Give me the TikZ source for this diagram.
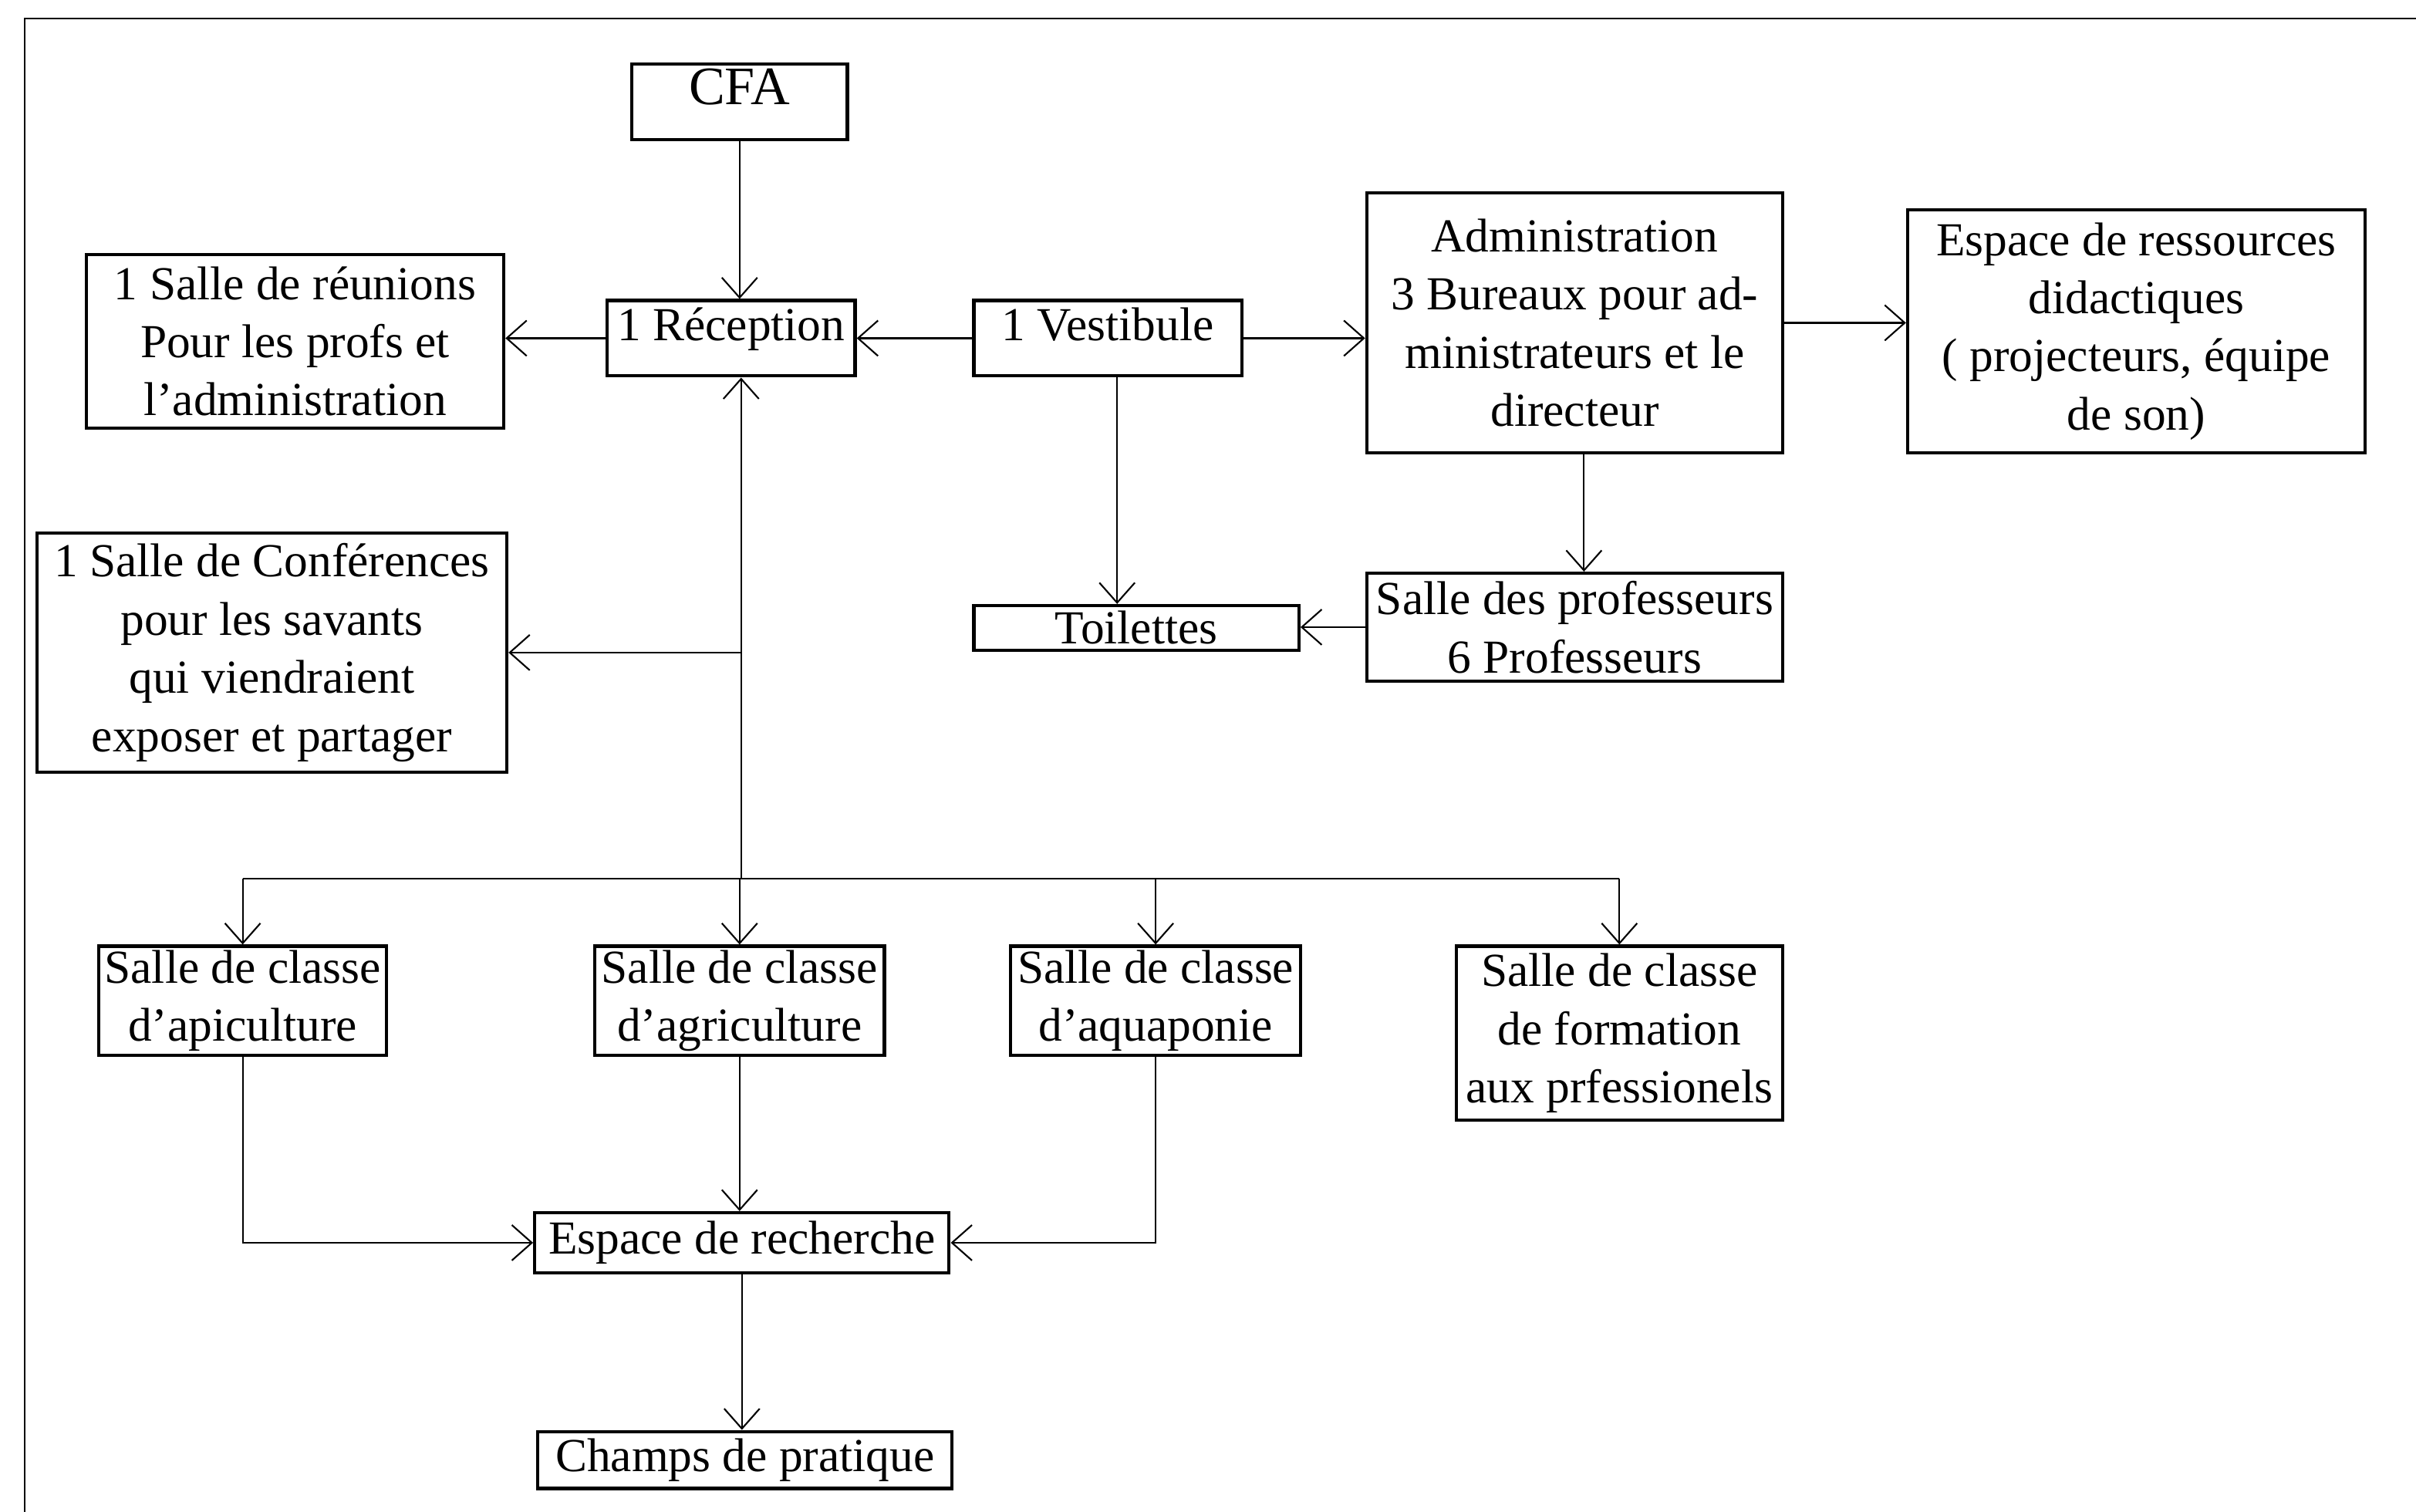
\documentclass[tikz,border=0pt]{standalone}
\usepackage{fontspec}
\setmainfont{Liberation Serif}
\usetikzlibrary{arrows.meta}

\begin{document}
\begin{tikzpicture}[x=0.02cm,y=-0.02cm,
  box/.style={draw,line width=1.2pt,align=center,inner sep=1pt,font=\fontsize{17.5}{21.5}\selectfont},
  high/.style={text height=0.44cm,text depth=0.37cm,inner ysep=2pt},
  arr/.style={-{Straight Barb[length=2.6mm,width=4.6mm]},line width=0.6pt}]
\useasboundingbox (0,0) rectangle (1568,981);
\draw[line width=0.8pt] (16,981)--(16,12)--(1568,12);

\node[box,high,minimum width=2.8cm,minimum height=0.98cm,font=\fontsize{20}{24}\selectfont] (cfa) at (480,66){CFA};
\node[box,high,minimum width=3.22cm,minimum height=0.98cm] (recep) at (474.5,219.5){1 Réception};
\node[box,high,minimum width=3.48cm,minimum height=0.98cm] (vest) at (719,219.5){1 Vestibule};
\node[box,minimum width=5.42cm,minimum height=2.26cm] (reun) at (191.5,221.5){1 Salle de réunions\\Pour les profs et\\l’administration};
\node[box,minimum width=5.4cm,minimum height=3.38cm] (admin) at (1022,209.5){Administration\\3 Bureaux pour ad-\\ministrateurs et le\\directeur};
\node[box,minimum width=5.94cm,minimum height=3.16cm] (ress) at (1386.5,215){Espace de ressources\\didactiques\\( projecteurs, équipe\\de son)};
\node[box,minimum width=6.1cm,minimum height=3.1cm] (conf) at (176.5,423.5){1 Salle de Conférences\\pour les savants\\qui viendraient\\exposer et partager};
\node[box,minimum width=4.22cm,minimum height=0.58cm] (toil) at (737.5,407.5){Toilettes};
\node[box,minimum width=5.4cm,minimum height=1.4cm] (profs) at (1022,407){Salle des professeurs\\6 Professeurs};
\node[box,minimum width=3.74cm,minimum height=1.42cm] (api) at (157.5,649.5){Salle de classe\\d’apiculture};
\node[box,minimum width=3.76cm,minimum height=1.42cm] (agri) at (480,649.5){Salle de classe\\d’agriculture};
\node[box,minimum width=3.76cm,minimum height=1.42cm] (aqua) at (750,649.5){Salle de classe\\d’aquaponie};
\node[box,minimum width=4.24cm,minimum height=2.26cm] (form) at (1051,670.5){Salle de classe\\de formation\\aux prfessionels};
\node[box,minimum width=5.38cm,minimum height=0.78cm] (rech) at (481.5,806.5){Espace de recherche};
\node[box,minimum width=5.38cm,minimum height=0.74cm] (champ) at (483.5,947.5){Champs de pratique};

\coordinate (bus) at (481,570);

\draw[arr] (cfa.south)--(cfa.south |- recep.north);
\draw[arr] (vest.west)--(recep.east);
\draw[arr] (recep.west)--(recep.west -| reun.east);
\draw[arr] (vest.east)--(vest.east -| admin.west);
\draw[arr] (admin.east)--(admin.east -| ress.west);
\draw[arr] ([xshift=0.12cm]vest.south)--([xshift=0.12cm]vest.south |- toil.north);
\draw[arr] ([xshift=0.12cm]admin.south)--([xshift=0.12cm]admin.south |- profs.north);
\draw[arr] (profs.west)--(profs.west -| toil.east);

\draw[arr] (bus)--(bus |- recep.south);
\draw[arr] (bus |- conf.east)--(conf.east);
\draw[line width=0.6pt] (api.north |- bus)--(form.north |- bus);
\foreach \n in {api,agri,aqua,form}{
    \draw[arr] (\n.north |- bus)--(\n.north);
}

\draw[arr] (api.south) |- (rech.west);
\draw[arr] (aqua.south) |- (rech.east);
\draw[arr] (agri.south)--(agri.south |- rech.north);
\draw[arr] (rech.south)--(rech.south |- champ.north);
\end{tikzpicture}
\end{document}
